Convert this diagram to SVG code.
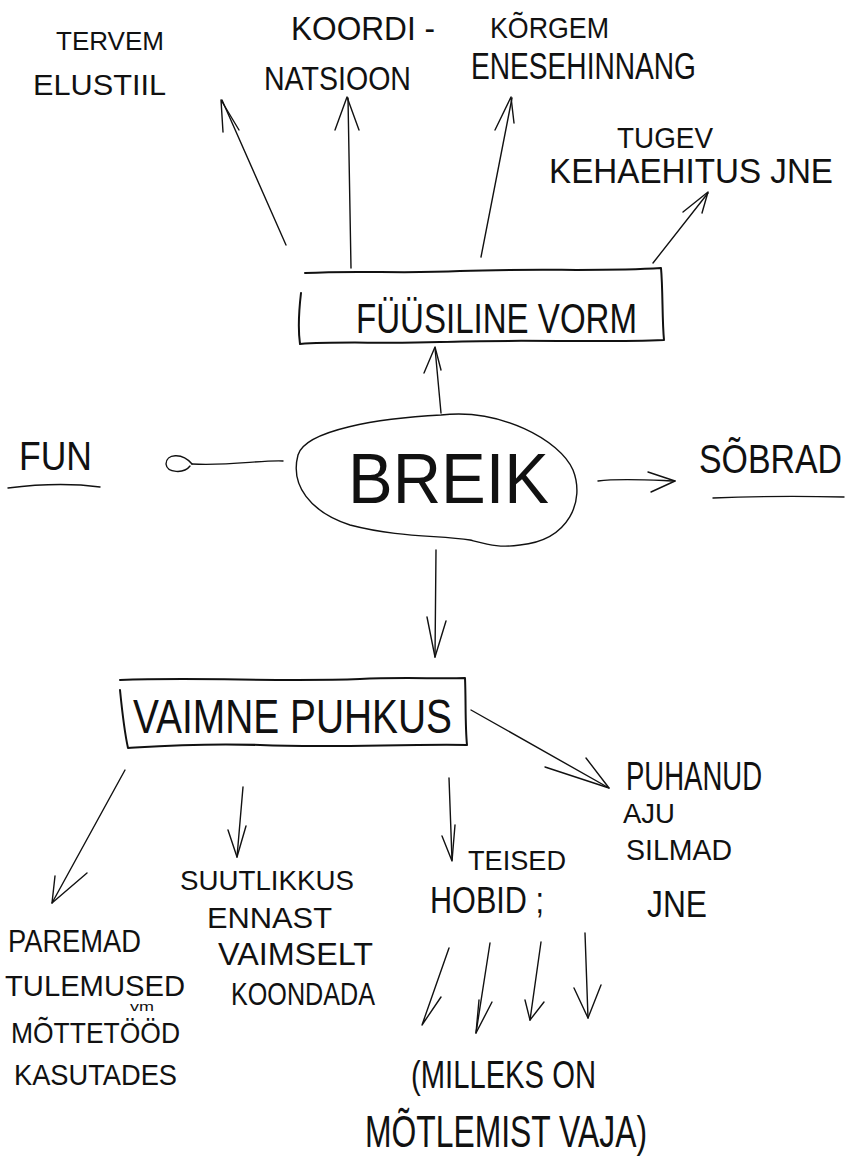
<svg xmlns="http://www.w3.org/2000/svg" width="853" height="1158" viewBox="0 0 853 1158">
<style>
.t{font-family:"Liberation Sans",Arial,sans-serif;fill:#111;}
.l{fill:none;stroke:#111;stroke-width:1.4;stroke-linecap:round;stroke-linejoin:round;}
.b{fill:none;stroke:#111;stroke-width:2;stroke-linecap:round;stroke-linejoin:round;}
</style>
<rect width="853" height="1158" fill="#fff"/>
<g id="connectors">
  <!-- to TERVEM -->
  <path class="l" d="M286,245 L222,100"/><path class="l" d="M223,132 L221,100 L239,130"/>
  <!-- to KOORDI -->
  <path class="l" d="M351,268 L348,98"/><path class="l" d="M335,130 L347,97 L359,130"/>
  <!-- to KORGEM -->
  <path class="l" d="M481,257 L512,98"/><path class="l" d="M495,130 L511,97 L514,123"/>
  <!-- to TUGEV -->
  <path class="l" d="M653,263 L708,193"/><path class="l" d="M683,212 L708,192 L702,213"/>
  <!-- BREIK to FUUSILINE -->
  <path class="l" d="M441,413 L435,348"/><path class="l" d="M424,373 L435,347 L441,370"/>
  <!-- to FUN -->
  <path class="l" d="M283,461 C260,460 230,466 192,464"/>
  <path class="l" d="M192,464 C182,452 166,454 166,464 C167,473 184,474 190,466"/>
  <!-- to SOBRAD -->
  <path class="l" d="M598,481 C620,478 650,480 675,481"/><path class="l" d="M648,472 L675,481 L651,492"/>
  <!-- BREIK to VAIMNE -->
  <path class="l" d="M436,550 L435,657"/><path class="l" d="M427,617 L435,657 L446,621"/>
  <!-- to PUHANUD -->
  <path class="l" d="M471,710 L609,788"/><path class="l" d="M545,767 L609,788 L586,758"/>
  <!-- to PAREMAD -->
  <path class="l" d="M125,770 L52,903"/><path class="l" d="M55,876 L52,903 L87,873"/>
  <!-- to SUUTLIKKUS -->
  <path class="l" d="M243,787 L237,857"/><path class="l" d="M228,830 L237,857 L246,826"/>
  <!-- to TEISED -->
  <path class="l" d="M449,778 L452,860"/><path class="l" d="M442,836 L452,861 L455,825"/>
  <!-- four arrows from HOBID -->
  <path class="l" d="M449,948 L422,1025 L441,997"/>
  <path class="l" d="M490,943 L476,1033"/><path class="l" d="M479,1000 L476,1033 L492,1002"/>
  <path class="l" d="M541,942 L530,1020"/><path class="l" d="M525,1000 L530,1020 L544,1002"/>
  <path class="l" d="M585,933 L588,1018"/><path class="l" d="M574,988 L588,1018 L601,985"/>
</g>
<g id="node-tervem">
  <text class="t" x="56" y="50" font-size="26" textLength="108" lengthAdjust="spacingAndGlyphs">TERVEM</text>
  <text class="t" x="33" y="95" font-size="30" textLength="133" lengthAdjust="spacingAndGlyphs">ELUSTIIL</text>
</g>
<g id="node-koordinatsioon">
  <text class="t" x="291" y="40" font-size="33" textLength="144" lengthAdjust="spacingAndGlyphs">KOORDI -</text>
  <text class="t" x="264" y="90" font-size="33" textLength="147" lengthAdjust="spacingAndGlyphs">NATSIOON</text>
</g>
<g id="node-korgem">
  <text class="t" x="490" y="38" font-size="30" textLength="119" lengthAdjust="spacingAndGlyphs">KÕRGEM</text>
  <text class="t" x="471" y="79" font-size="36" textLength="225" lengthAdjust="spacingAndGlyphs">ENESEHINNANG</text>
</g>
<g id="node-tugev">
  <text class="t" x="617" y="148" font-size="30" textLength="96" lengthAdjust="spacingAndGlyphs">TUGEV</text>
  <text class="t" x="549" y="183" font-size="35" textLength="284" lengthAdjust="spacingAndGlyphs">KEHAEHITUS JNE</text>
</g>
<g id="node-fuusiline">
  <path class="b" d="M305,273 C360,270 400,274 460,271 C540,268 600,272 661,268 C663,290 662,320 664,340 C600,343 520,339 440,342 C380,344 340,341 300,344 C298,330 299,310 301,293"/>
  <text class="t" x="356" y="333" font-size="42" textLength="281" lengthAdjust="spacingAndGlyphs">FÜÜSILINE VORM</text>
</g>
<g id="node-breik">
  <path class="l" d="M441,415 C500,408 560,440 573,470 C585,500 570,540 520,545 C500,548 490,545 470,540 C440,535 400,538 350,525 C310,512 290,485 298,455 C305,430 380,418 441,415 Z"/>
  <text class="t" x="348" y="503" font-size="70" textLength="201" lengthAdjust="spacingAndGlyphs">BREIK</text>
</g>
<g id="node-fun">
  <text class="t" x="19" y="470" font-size="40" textLength="73" lengthAdjust="spacingAndGlyphs">FUN</text>
  <path class="l" d="M8,488 C40,484 70,483 100,487"/>
</g>
<g id="node-sobrad">
  <text class="t" x="699" y="473" font-size="40" textLength="143" lengthAdjust="spacingAndGlyphs">SÕBRAD</text>
  <path class="l" d="M713,498 C760,496 800,496 844,497"/>
</g>
<g id="node-vaimne">
  <path class="b" d="M120,680 C200,677 280,682 360,679 C400,677 440,679 465,678 C466,700 465,725 467,745 C400,744 330,748 260,745 C200,743 160,746 128,748 C124,730 122,710 120,690"/>
  <text class="t" x="133" y="733" font-size="48" textLength="319" lengthAdjust="spacingAndGlyphs">VAIMNE PUHKUS</text>
</g>
<g id="node-puhanud">
  <text class="t" x="626" y="790" font-size="40" textLength="136" lengthAdjust="spacingAndGlyphs">PUHANUD</text>
  <text class="t" x="623" y="823" font-size="28" textLength="52" lengthAdjust="spacingAndGlyphs">AJU</text>
  <text class="t" x="626" y="860" font-size="30" textLength="106" lengthAdjust="spacingAndGlyphs">SILMAD</text>
  <text class="t" x="647" y="917" font-size="36" textLength="60" lengthAdjust="spacingAndGlyphs">JNE</text>
</g>
<g id="node-paremad">
  <text class="t" x="8" y="952" font-size="32" textLength="133" lengthAdjust="spacingAndGlyphs">PAREMAD</text>
  <text class="t" x="5" y="996" font-size="30" textLength="180" lengthAdjust="spacingAndGlyphs">TULEMUSED</text>
  <text class="t" x="130" y="1011" font-size="13" textLength="24" lengthAdjust="spacingAndGlyphs">vm</text>
  <text class="t" x="11" y="1043" font-size="30" textLength="169" lengthAdjust="spacingAndGlyphs">MÕTTETÖÖD</text>
  <text class="t" x="14" y="1085" font-size="30" textLength="163" lengthAdjust="spacingAndGlyphs">KASUTADES</text>
</g>
<g id="node-suutlikkus">
  <text class="t" x="180" y="890" font-size="28" textLength="174" lengthAdjust="spacingAndGlyphs">SUUTLIKKUS</text>
  <text class="t" x="207" y="928" font-size="30" textLength="125" lengthAdjust="spacingAndGlyphs">ENNAST</text>
  <text class="t" x="218" y="965" font-size="32" textLength="155" lengthAdjust="spacingAndGlyphs">VAIMSELT</text>
  <text class="t" x="231" y="1005" font-size="32" textLength="144" lengthAdjust="spacingAndGlyphs">KOONDADA</text>
</g>
<g id="node-teised">
  <text class="t" x="468" y="870" font-size="28" textLength="98" lengthAdjust="spacingAndGlyphs">TEISED</text>
  <text class="t" x="430" y="913" font-size="36" textLength="114" lengthAdjust="spacingAndGlyphs">HOBID ;</text>
</g>
<g id="node-milleks">
  <text class="t" x="411" y="1088" font-size="38" textLength="185" lengthAdjust="spacingAndGlyphs">(MILLEKS ON</text>
  <text class="t" x="365" y="1147" font-size="44" textLength="282" lengthAdjust="spacingAndGlyphs">MÕTLEMIST VAJA)</text>
</g>
</svg>
